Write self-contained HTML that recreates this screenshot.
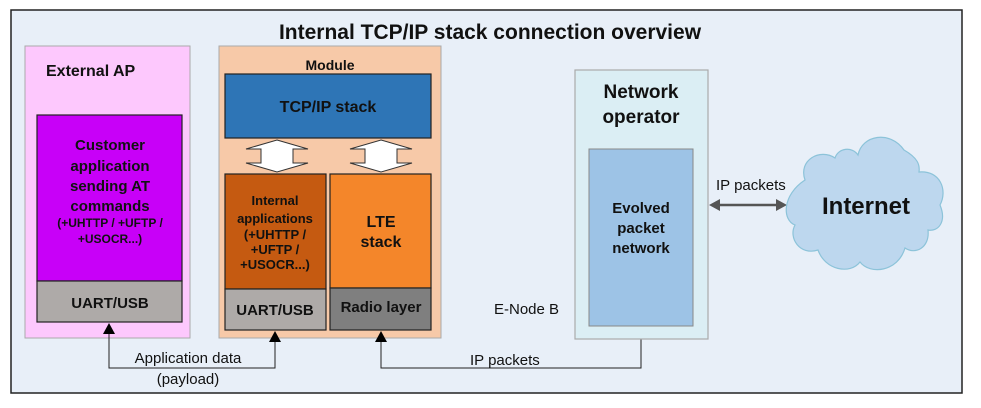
<!DOCTYPE html>
<html><head><meta charset="utf-8"><style>
body{margin:0;background:#fff;}
svg text{font-family:"Liberation Sans",sans-serif;}
</style></head><body>
<svg width="981" height="403" viewBox="0 0 981 403" xmlns="http://www.w3.org/2000/svg">
<rect x="11" y="10" width="951" height="383" fill="#e8eff8" stroke="#222" stroke-width="1.5"/>
<text x="490" y="39" text-anchor="middle" font-size="21" font-weight="bold" fill="#111">Internal TCP/IP stack connection overview</text>
<!-- External AP -->
<rect x="25" y="46" width="165" height="292" fill="#fdc8fd" stroke="#aaa"/>
<text x="46" y="76" font-size="16" font-weight="bold" fill="#111">External AP</text>
<rect x="37" y="115" width="145" height="166" fill="#c800f8" stroke="#222" stroke-width="1.2"/>
<g font-weight="bold" fill="#111" text-anchor="middle">
<text x="110" y="150" font-size="15">Customer</text>
<text x="110" y="171" font-size="15">application</text>
<text x="110" y="191" font-size="15">sending AT</text>
<text x="110" y="211" font-size="15">commands</text>
<text x="110" y="227" font-size="12">(+UHTTP / +UFTP /</text>
<text x="110" y="243" font-size="12">+USOCR...)</text>
</g>
<rect x="37" y="281" width="145" height="41" fill="#aeaaa8" stroke="#222" stroke-width="1.2"/>
<text x="110" y="308" text-anchor="middle" font-size="15" font-weight="bold" fill="#111">UART/USB</text>
<!-- Module -->
<rect x="219" y="46" width="222" height="292" fill="#f7c9a8" stroke="#aaa"/>
<text x="330" y="70" text-anchor="middle" font-size="14" font-weight="bold" fill="#111">Module</text>
<rect x="225" y="74" width="206" height="64" fill="#2e75b6" stroke="#222" stroke-width="1.2"/>
<text x="328" y="112" text-anchor="middle" font-size="16" font-weight="bold" fill="#111">TCP/IP stack</text>
<g fill="#fff" stroke="#333" stroke-width="1">
<path d="M277 140 L308 149 L293 149 L293 163 L308 163 L277 172 L246 163 L261 163 L261 149 L246 149 Z"/>
<path d="M381 140 L412 149 L397 149 L397 163 L412 163 L381 172 L350 163 L365 163 L365 149 L350 149 Z"/>
</g>
<rect x="225" y="174" width="101" height="115" fill="#c55a11" stroke="#222" stroke-width="1.2"/>
<g font-weight="bold" fill="#111" text-anchor="middle" font-size="13">
<text x="275" y="205">Internal</text>
<text x="275" y="223">applications</text>
<text x="275" y="239">(+UHTTP /</text>
<text x="275" y="254">+UFTP /</text>
<text x="275" y="269">+USOCR...)</text>
</g>
<rect x="225" y="289" width="101" height="41" fill="#aeaaa8" stroke="#222" stroke-width="1.2"/>
<text x="275" y="315" text-anchor="middle" font-size="15" font-weight="bold" fill="#111">UART/USB</text>
<rect x="330" y="174" width="101" height="114" fill="#f4862a" stroke="#222" stroke-width="1.2"/>
<text x="381" y="227" text-anchor="middle" font-size="16" font-weight="bold" fill="#111">LTE</text>
<text x="381" y="247" text-anchor="middle" font-size="16" font-weight="bold" fill="#111">stack</text>
<rect x="330" y="288" width="101" height="42" fill="#7f7f7f" stroke="#222" stroke-width="1.2"/>
<text x="381" y="312" text-anchor="middle" font-size="15" font-weight="bold" fill="#111">Radio layer</text>
<!-- connectors -->
<g fill="none" stroke="#222" stroke-width="1">
<path d="M109 333 V368 H275 V341"/>
<path d="M381 341 V368 H641 V338"/>
</g>
<g fill="#000">
<path d="M109 323 L103 334 L115 334 Z"/>
<path d="M275 331 L269 342 L281 342 Z"/>
<path d="M381 331 L375 342 L387 342 Z"/>
<path d="M641 327 L635 339 L647 339 Z"/>
</g>
<text x="188" y="363" text-anchor="middle" font-size="15" fill="#111">Application data</text>
<text x="188" y="384" text-anchor="middle" font-size="15" fill="#111">(payload)</text>
<text x="470" y="365" font-size="15" fill="#111">IP packets</text>
<text x="494" y="314" font-size="15" fill="#111">E-Node B</text>
<!-- Network operator -->
<rect x="575" y="70" width="133" height="269" fill="#dbeef4" stroke="#aaa" stroke-width="1.2"/>
<text x="641" y="98" text-anchor="middle" font-size="19" font-weight="bold" fill="#111">Network</text>
<text x="641" y="123" text-anchor="middle" font-size="19" font-weight="bold" fill="#111">operator</text>
<rect x="589" y="149" width="104" height="177" fill="#9dc3e6" stroke="#888"/>
<g font-weight="bold" fill="#111" text-anchor="middle" font-size="15">
<text x="641" y="213">Evolved</text>
<text x="641" y="233">packet</text>
<text x="641" y="253">network</text>
</g>
<!-- IP packets arrow -->
<text x="716" y="190" font-size="15" fill="#111">IP packets</text>
<line x1="716" y1="205" x2="781" y2="205" stroke="#555" stroke-width="2.5"/>
<path d="M709 205 L720 199 L720 211 Z M787 205 L776 199 L776 211 Z" fill="#555"/>
<!-- cloud -->
<path d="M805 180 C798 160 820 148 835 158 C838 148 852 146 858 155 C862 135 890 130 904 150 C918 158 920 165 919 172 C940 170 948 190 940 205 C947 222 938 232 928 230 C930 248 915 255 905 248 C898 272 870 275 860 262 C850 275 825 270 818 250 C800 256 788 238 795 225 C782 220 782 195 805 180 Z" fill="#bdd7ee" stroke="#8cc3d9" stroke-width="1.2"/>
<text x="866" y="214" text-anchor="middle" font-size="24" font-weight="bold" fill="#111">Internet</text>
</svg>
</body></html>
